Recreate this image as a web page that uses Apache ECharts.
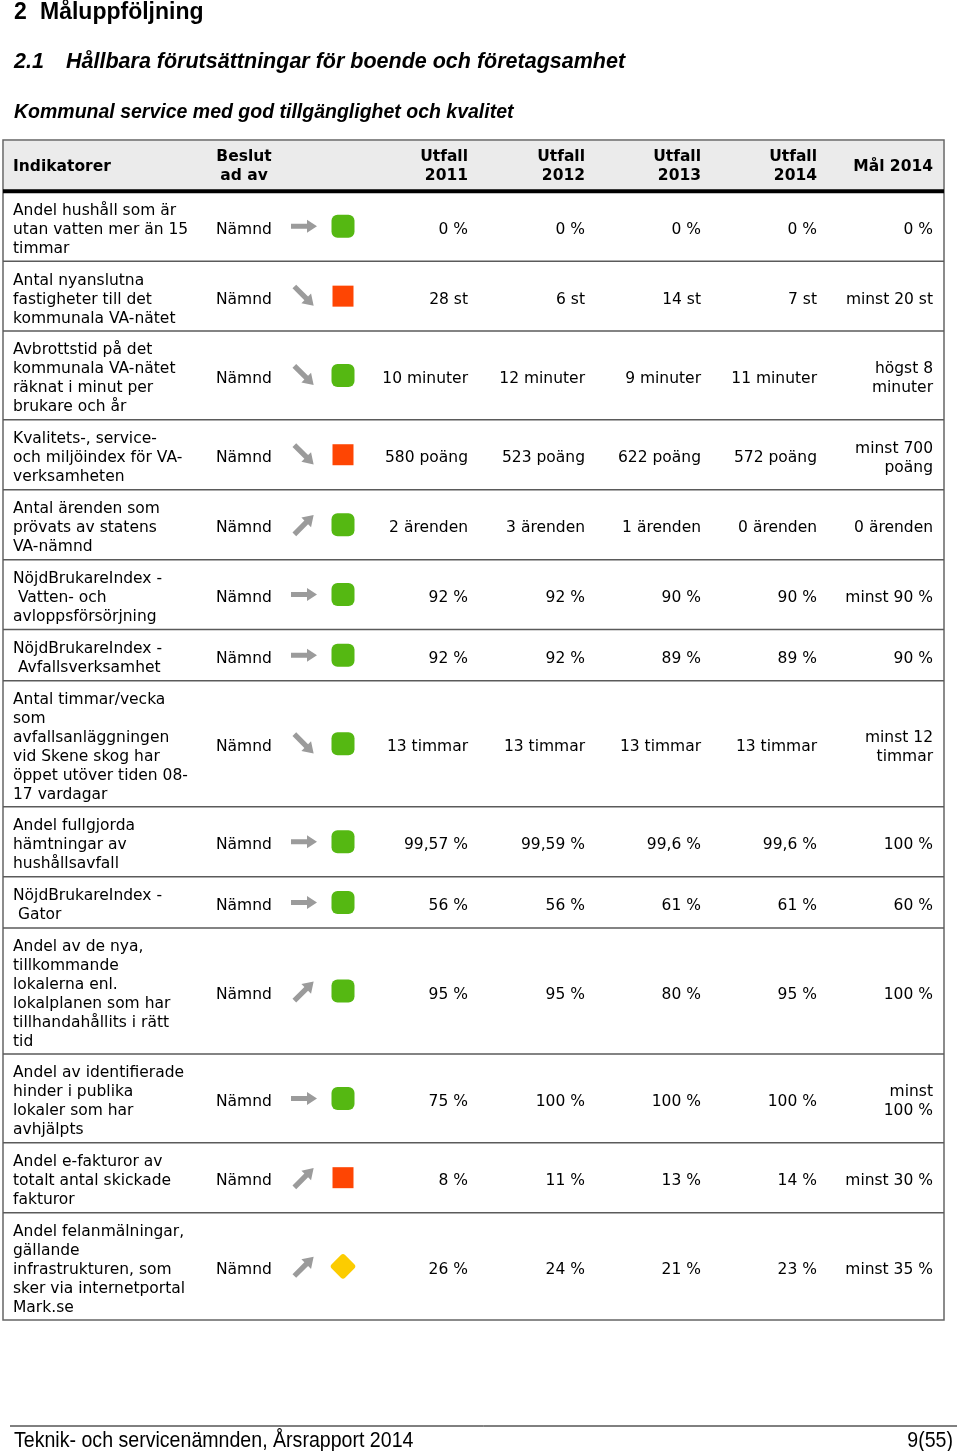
<!DOCTYPE html>
<html><head><meta charset="utf-8">
<script src="https://cdn.jsdelivr.net/npm/echarts@6/dist/echarts.min.js"></script>
<style>html,body{margin:0;padding:0;background:#fff}#c{width:960px;height:1451px}</style>
</head><body><div id="c"></div>
<script>
// ---- data ----
const headers = ['Indikatorer', 'Beslut\nad av', 'Utfall\n2011', 'Utfall\n2012', 'Utfall\n2013', 'Utfall\n2014', 'Mål 2014'];
const indicators = [
  'Andel hushåll som är\nutan vatten mer än 15\ntimmar',
  'Antal nyanslutna\nfastigheter till det\nkommunala VA-nätet',
  'Avbrottstid på det\nkommunala VA-nätet\nräknat i minut per\nbrukare och år',
  'Kvalitets-, service-\noch miljöindex för VA-\nverksamheten',
  'Antal ärenden som\nprövats av statens\nVA-nämnd',
  'NöjdBrukareIndex -\n Vatten- och\navloppsförsörjning',
  'NöjdBrukareIndex -\n Avfallsverksamhet',
  'Antal timmar/vecka\nsom\navfallsanläggningen\nvid Skene skog har\nöppet utöver tiden 08-\n17 vardagar',
  'Andel fullgjorda\nhämtningar av\nhushållsavfall',
  'NöjdBrukareIndex -\n Gator',
  'Andel av de nya,\ntillkommande\nlokalerna enl.\nlokalplanen som har\ntillhandahållits i rätt\ntid',
  'Andel av identifierade\nhinder i publika\nlokaler som har\navhjälpts',
  'Andel e-fakturor av\ntotalt antal skickade\nfakturor',
  'Andel felanmälningar,\ngällande\ninfrastrukturen, som\nsker via internetportal\nMark.se'
];
const decidedBy = ['Nämnd','Nämnd','Nämnd','Nämnd','Nämnd','Nämnd','Nämnd','Nämnd','Nämnd','Nämnd','Nämnd','Nämnd','Nämnd','Nämnd'];
const trends = ['flat','down','down','down','up','flat','flat','down','flat','flat','up','flat','up','up'];
const statuses = ['green','red','green','red','green','green','green','green','green','green','green','green','red','yellow'];
const utfall2011 = ['0 %','28 st','10 minuter','580 poäng','2 ärenden','92 %','92 %','13 timmar','99,57 %','56 %','95 %','75 %','8 %','26 %'];
const utfall2012 = ['0 %','6 st','12 minuter','523 poäng','3 ärenden','92 %','92 %','13 timmar','99,59 %','56 %','95 %','100 %','11 %','24 %'];
const utfall2013 = ['0 %','14 st','9 minuter','622 poäng','1 ärenden','90 %','89 %','13 timmar','99,6 %','61 %','80 %','100 %','13 %','21 %'];
const utfall2014 = ['0 %','7 st','11 minuter','572 poäng','0 ärenden','90 %','89 %','13 timmar','99,6 %','61 %','95 %','100 %','14 %','23 %'];
const mal2014 = ['0 %','minst 20 st','högst 8\nminuter','minst 700\npoäng','0 ärenden','minst 90 %','90 %','minst 12\ntimmar','100 %','60 %','100 %','minst\n100 %','minst 30 %','minst 35 %'];
const titleMain = ['2', 'Måluppföljning'];
const titleSub = ['2.1', 'Hållbara förutsättningar för boende och företagsamhet'];
const titleGoal = 'Kommunal service med god tillgänglighet och kvalitet';
const footerLeft = 'Teknik- och servicenämnden, Årsrapport 2014';
const footerRight = '9(55)';

// ---- layout ----
const PAD = 0.74;            // row padding in line units
const XMAX = 941;
const COL = { ind: 10, besl: 213, beslHead: 241, arrow: 301, status: 340, vals: [465, 582, 698, 814], mal: 930 };
const FONT = '15.5px "DejaVu Sans", Verdana, sans-serif';
const BFONT = 'bold 15.5px "DejaVu Sans", Verdana, sans-serif';
const TXT_DY = 3.5, ICON_DY = 0;
const nl = s => s.split('\n').length;

// build rows on the y value axis (line units)
const rowData = [];
let acc = 0;
const hLines = Math.max(...headers.map(nl));
rowData.push([-1, acc, acc + hLines + PAD]); acc += hLines + PAD;
indicators.forEach((t, i) => {
  const n = Math.max(nl(t), nl(mal2014[i]));
  rowData.push([i, acc, acc + n + PAD]); acc += n + PAD;
});
const TOTAL = acc;

function arrowEl(kind, x, y) {
  const rot = kind === 'up' ? Math.PI / 4 : kind === 'down' ? -Math.PI / 4 : 0;
  const s = kind === 'flat' ? 1 : 1.05;
  return {
    type: 'polygon', x: x, y: y, rotation: rot, scaleX: s, scaleY: s,
    shape: { points: [[-13,-2.5],[3,-2.5],[3,-6.5],[13,0],[3,6.5],[3,2.5],[-13,2.5]] },
    style: { fill: '#9b9b9b' }
  };
}
function statusEl(kind, x, y) {
  if (kind === 'green') return { type: 'rect', shape: { x: x - 11.5, y: y - 11.5, width: 23, height: 23, r: 6 }, style: { fill: '#55b812' } };
  if (kind === 'red') return { type: 'rect', shape: { x: x - 10.5, y: y - 10.5, width: 21, height: 21 }, style: { fill: '#fe4503' } };
  return { type: 'rect', x: x, y: y, rotation: Math.PI / 4, shape: { x: -9.5, y: -9.5, width: 19, height: 19, r: 3 }, style: { fill: '#fccc00' } };
}
function txt(text, x, y, align, font) {
  return { type: 'text', x: x, y: y, style: { text: text, font: font || FONT, fill: '#000', align: align, verticalAlign: 'middle', lineHeight: 19 } };
}

function renderItem(params, api) {
  const idx = api.value(0);
  const p0 = api.coord([0, api.value(1)]);
  const p1 = api.coord([XMAX, api.value(2)]);
  const X = v => api.coord([v, 0])[0];
  const x0 = p0[0], y0 = p0[1], x1 = p1[0], y1 = p1[1];
  const cy = (y0 + y1) / 2;
  const ch = [];
  if (idx < 0) {
    ch.push({ type: 'rect', shape: { x: x0 + 1, y: y0 + 1, width: x1 - x0 - 2, height: y1 - y0 - 1 }, style: { fill: '#ebebeb' } });
    ch.push({ type: 'line', shape: { x1: x0, y1: y1, x2: x1, y2: y1 }, style: { stroke: '#000', lineWidth: 4 } });
    const hy = cy + 1;
    ch.push(txt(headers[0], X(COL.ind), hy, 'left', BFONT));
    ch.push(txt(headers[1], X(COL.beslHead), hy, 'center', BFONT));
    for (let k = 0; k < 4; k++) ch.push(txt(headers[2 + k], X(COL.vals[k]), hy, 'right', BFONT));
    ch.push(txt(headers[6], X(COL.mal), hy, 'right', BFONT));
  } else {
    if (idx < indicators.length - 1)
      ch.push({ type: 'line', shape: { x1: x0, y1: y1, x2: x1, y2: y1 }, style: { stroke: '#5a5a5a', lineWidth: 1.5 } });
    const ty = cy + TXT_DY;
    ch.push(txt(indicators[idx], X(COL.ind), ty, 'left'));
    ch.push(txt(decidedBy[idx], X(COL.besl), ty, 'left'));
    ch.push(arrowEl(trends[idx], X(COL.arrow), cy + ICON_DY));
    ch.push(statusEl(statuses[idx], X(COL.status), cy + ICON_DY));
    const vals = [utfall2011, utfall2012, utfall2013, utfall2014];
    for (let k = 0; k < 4; k++) ch.push(txt(vals[k][idx], X(COL.vals[k]), ty, 'right'));
    ch.push(txt(mal2014[idx], X(COL.mal), ty, 'right'));
  }
  return { type: 'group', children: ch };
}

const chart = echarts.init(document.getElementById('c'), null, { renderer: 'canvas' });
const TF = '"Liberation Sans", Arial, sans-serif';
chart.setOption({
  animation: false,
  backgroundColor: '#fff',
  grid: { left: 3, right: 16, top: 140, bottom: 131, show: true, borderColor: '#666', borderWidth: 1.5, backgroundColor: 'transparent' },
  xAxis: { type: 'value', min: 0, max: XMAX, show: false },
  yAxis: { type: 'value', min: 0, max: TOTAL, inverse: true, show: false },
  series: [{ type: 'custom', renderItem: renderItem, data: rowData, encode: { x: [], y: [1, 2] }, clip: false }],
  graphic: [
    { type: 'text', x: 14, y: 13, style: { text: titleMain[0], font: 'bold 23px ' + TF, fill: '#000', verticalAlign: 'middle' } },
    { type: 'text', x: 40, y: 13, style: { text: titleMain[1], font: 'bold 23px ' + TF, fill: '#000', verticalAlign: 'middle' } },
    { type: 'text', x: 14, y: 62, style: { text: titleSub[0], font: 'italic bold 21.5px ' + TF, fill: '#000', verticalAlign: 'middle' } },
    { type: 'text', x: 66, y: 62, style: { text: titleSub[1], font: 'italic bold 21.5px ' + TF, fill: '#000', verticalAlign: 'middle' } },
    { type: 'text', x: 14, y: 113, style: { text: titleGoal, font: 'italic bold 19.5px ' + TF, fill: '#000', verticalAlign: 'middle' } },
    { type: 'line', shape: { x1: 10, y1: 1426, x2: 957, y2: 1426 }, style: { stroke: '#000', lineWidth: 1 } },
    { type: 'text', x: 14, y: 1441, scaleX: 0.89, style: { text: footerLeft, font: '22px ' + TF, fill: '#000', verticalAlign: 'middle' } },
    { type: 'text', x: 953, y: 1441, scaleX: 0.89, style: { text: footerRight, font: '22px ' + TF, fill: '#000', align: 'right', verticalAlign: 'middle' } }
  ]
});
</script></body></html>
